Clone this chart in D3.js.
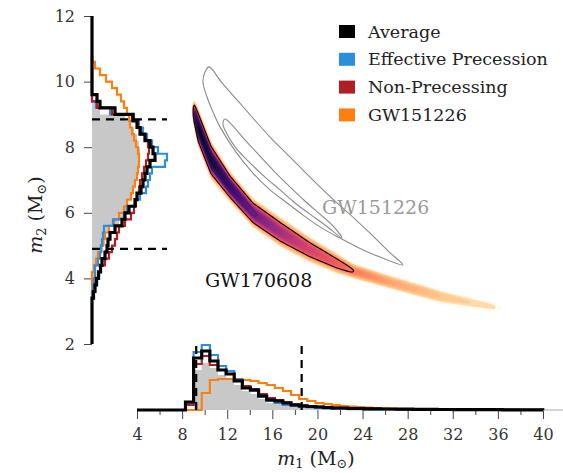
<!DOCTYPE html>
<html>
<head>
<meta charset="utf-8">
<script src="https://cdn.jsdelivr.net/npm/d3@7"></script>
<style>
  body { margin: 0; background: #fff; }
  text { font-family: "DejaVu Serif", serif; }
</style>
</head>
<body>
<svg id="chart" width="563" height="473"></svg>
<script>
// ---- marginal histogram of m2 (bins of 0.2 from 3.4) ----
const m2Edges = d3.range(38).map(i => 3.4 + 0.2 * i);
const m2Average = [1.5, 3, 4.5, 6.5, 8.5, 10, 13, 15, 16, 18, 23, 30, 33, 37, 43, 45, 49, 51, 53, 55, 58, 63, 61, 58, 53, 48, 45, 41, 23, 8, 5, 0, 0, 0, 0, 0, 0];
const m2Filled  = [0, 0, 1, 2, 3, 4, 8, 11, 13, 14, 17, 27, 31, 34, 36, 38, 41, 43, 45, 46, 47, 48, 48, 47, 45, 42, 38, 33, 8, 4, 0, 0, 0, 0, 0, 0, 0];
const m2EffPrec = [0, 1, 2, 3, 3, 6, 8, 9, 10, 11, 12, 21, 32, 35, 43, 48, 54, 56, 58, 60, 73, 75, 66, 60, 55, 51, 47, 42, 18, 4, 0, 0, 0, 0, 0, 0, 0];
const m2NonPrec = [1, 3, 5, 7, 9, 13, 17, 20, 23, 25, 27, 33, 39, 42, 44, 45, 47, 48, 50, 52, 54, 56, 57, 56, 53, 49, 46, 40, 20, 5, 0, 0, 0, 0, 0, 0, 0];
const m2GW151226 = [0, 0, 0, 0, 2, 4, 6, 9, 11, 13, 17, 22, 27, 32, 35, 39, 41, 43, 45, 46, 47, 47, 46, 44, 42, 40, 38, 37, 35, 32, 29, 25, 20, 14, 8, 3, 0];
const m2Interval = [4.9, 8.85];

// ---- marginal histogram of m1 (bins of 0.72 from 8.3) ----
const m1Edges = d3.range(45).map(i => 8.3 + 0.72 * i);
const m1Average = [8, 52, 59, 49, 40, 36, 29, 22, 20, 14, 10, 9, 7, 5, 4, 3.5, 3, 2.5, 2, 2, 1.5, 1.5, 1.2, 1.2, 1, 1, 0.8, 0.8, 0.7, 0.6, 0.6, 0.5, 0.5, 0.4, 0.4, 0.4, 0.3, 0.3, 0.3, 0.2, 0.2, 0.2, 0.2, 0.1];
const m1Filled  = [0, 40, 47, 42, 35, 31, 25, 19, 16, 11, 7, 6, 4, 3, 2, 1.5, 1, 1, 0.5, 0.5, 0.3, 0.3, 0.2, 0.2, 0.1, 0.1, 0, 0, 0, 0, 0, 0, 0, 0, 0, 0, 0, 0, 0, 0, 0, 0, 0, 0];
const m1EffPrec = [6, 58, 65, 55, 44, 39, 31, 23, 19, 13, 9, 7, 5, 4, 3, 2.5, 2, 1.5, 1.2, 1, 0.8, 0.8, 0.6, 0.6, 0.5, 0.5, 0.4, 0.4, 0.3, 0.3, 0.3, 0.2, 0.2, 0.2, 0.2, 0.1, 0.1, 0.1, 0.1, 0.1, 0.1, 0, 0, 0];
const m1NonPrec = [5, 46, 54, 45, 40, 36, 30, 24, 21, 16, 12, 10, 8, 6, 5, 4, 3.5, 3, 2.5, 2, 1.8, 1.5, 1.3, 1.2, 1, 0.9, 0.8, 0.7, 0.6, 0.6, 0.5, 0.5, 0.4, 0.4, 0.3, 0.3, 0.3, 0.2, 0.2, 0.2, 0.2, 0.1, 0.1, 0.1];
const m1GW151226 = [0, 0, 17, 30, 31, 31, 31, 30, 29, 27, 25, 22, 19, 15, 11, 9, 7, 6, 5, 4, 3.5, 3, 2.5, 2, 1.6, 1.3, 1, 0.8, 0.6, 0.5, 0.4, 0.3, 0.3, 0.2, 0.2, 0.2, 0.1, 0.1, 0.1, 0.1, 0, 0, 0, 0];
const m1Interval = [9.25, 18.6];

// ---- GW170608 2D posterior ridge (centre line, peak density, spread in m2) ----
const ridgeM1 = [8.92, 9.12, 9.41, 10.56, 12.24, 14.28, 16.7, 19.3, 21.7, 23.2, 26.7, 31.1, 35.6, 36.5];
const ridgeM2 = [9.15, 8.98, 8.62, 7.61, 6.8, 6.0, 5.42, 4.88, 4.46, 4.22, 3.86, 3.43, 3.13, 3.08];
const ridgePeak = [0, 0.85, 1.0, 0.97, 0.88, 0.72, 0.56, 0.42, 0.33, 0.25, 0.15, 0.06, 0.03, 0];
const ridgeSpread = [0.15, 0.22, 0.3, 0.3, 0.24, 0.23, 0.24, 0.21, 0.17, 0.13, 0.12, 0.13, 0.09, 0.05];

// ---- GW151226 credible contours (outer and inner), upper then lower edge ----
const outerUpperM1 = [10.38, 11.54, 12.87, 14.28, 15.79, 17.30, 18.72, 20.22, 21.73, 23.33, 24.66, 26.25, 27.58];
const outerUpperM2 = [10.45, 9.96, 9.44, 8.89, 8.31, 7.79, 7.30, 6.79, 6.30, 5.81, 5.38, 4.84, 4.41];
const outerLowerM1 = [10.03, 9.85, 10.21, 10.74, 11.36, 12.78, 14.28, 15.79, 17.30, 18.72, 20.22, 21.99, 23.50, 25.54];
const outerLowerM2 = [10.29, 9.99, 9.53, 9.07, 8.62, 7.85, 7.21, 6.70, 6.30, 5.93, 5.57, 5.23, 4.96, 4.65];
const innerUpperM1 = [11.80, 12.42, 13.57, 14.90, 16.23, 17.56, 18.89, 20.22, 21.38, 22.17];
const innerUpperM2 = [8.86, 8.68, 8.22, 7.73, 7.24, 6.79, 6.36, 5.96, 5.60, 5.23];
const innerLowerM1 = [11.62, 11.89, 12.69, 14.02, 15.35, 16.68, 18.01, 19.34, 20.67];
const innerLowerM2 = [8.71, 8.46, 8.01, 7.52, 7.09, 6.70, 6.30, 5.96, 5.63];

const legendLabels = ["Average", "Effective Precession", "Non-Precessing", "GW151226"];
const legendColors = ["#000000", "#2e8ede", "#b01f24", "#ff7f0e"];
const xTicks = [4, 8, 12, 16, 20, 24, 28, 32, 36, 40];
const xMinorTicks = [6, 10, 14, 18, 22, 26, 30, 34, 38];
const yTicks = [2, 4, 6, 8, 10, 12];

const svg = d3.select("#chart");

const x = d3.scaleLinear().domain([4, 40]).range([137, 543]);
const y = d3.scaleLinear().domain([2, 12]).range([344, 16]);
const hx = d3.scaleLinear().domain([0, 100]).range([92, 192]);
const hy = d3.scaleLinear().domain([0, 100]).range([410, 310]);

// ---------- 2D density of GW170608 ----------
const gx0 = 180, gy0 = 85, W = 330, H = 240;
const ridgeC = d3.scaleLinear().domain(ridgeM1).range(ridgeM2).clamp(true);
const ridgeP = d3.scaleLinear().domain(ridgeM1).range(ridgePeak).clamp(true);
const ridgeS = d3.scaleLinear().domain(ridgeM1).range(ridgeSpread).clamp(true);
const grid = new Float64Array(W * H);
for (let j = 0; j < H; j++) {
  const m2 = y.invert(gy0 + j + 0.5);
  for (let i = 0; i < W; i++) {
    const m1 = x.invert(gx0 + i + 0.5);
    let v = 0;
    if (m1 > ridgeM1[0] && m1 < ridgeM1[ridgeM1.length - 1]) {
      const d = Math.abs(m2 - ridgeC(m1)) / ridgeS(m1);
      v = ridgeP(m1) * Math.exp(-0.5 * d * d * d);
    }
    grid[j * W + i] = v;
  }
}
const levels = d3.range(0.004, 1.0, 0.02);
const densColor = v => d3.interpolateMagma(Math.min(0.95, 0.06 + 0.87 * (1 - v)));
const dens = svg.append("g").attr("transform", `translate(${gx0},${gy0})`);
dens.selectAll("path.fill")
  .data(d3.contours().size([W, H]).thresholds(levels)(grid))
  .join("path")
  .attr("class", "fill")
  .attr("d", d3.geoPath())
  .attr("fill", d => densColor(d.value))
  .attr("fill-opacity", d => Math.min(1, d.value / 0.03));
dens.selectAll("path.line")
  .data(d3.contours().size([W, H]).thresholds([0.25, 0.7])(grid))
  .join("path")
  .attr("class", "line")
  .attr("d", d3.geoPath())
  .attr("fill", "none")
  .attr("stroke", "#000")
  .attr("stroke-opacity", (d, i) => i == 0 ? 1 : 0.35)
  .attr("stroke-width", (d, i) => i == 0 ? 1.1 : 0.8);

// ---------- GW151226 contours ----------
const closedLine = d3.line().x(d => x(d[0])).y(d => y(d[1])).curve(d3.curveCatmullRomClosed);
function contourPts(um1, um2, lm1, lm2) {
  const up = um1.map((m, i) => [m, um2[i]]);
  const low = lm1.map((m, i) => [m, lm2[i]]).reverse();
  return up.concat(low);
}
svg.append("path")
  .attr("d", closedLine(contourPts(outerUpperM1, outerUpperM2, outerLowerM1, outerLowerM2)))
  .attr("fill", "none").attr("stroke", "#8a8a8a").attr("stroke-width", 1.1);
svg.append("path")
  .attr("d", closedLine(contourPts(innerUpperM1, innerUpperM2, innerLowerM1, innerLowerM2)))
  .attr("fill", "none").attr("stroke", "#8a8a8a").attr("stroke-width", 1.1);

svg.append("text").attr("x", 322).attr("y", 214).attr("font-size", 19).attr("fill", "#9a9a9a").text("GW151226");
svg.append("text").attr("x", 205).attr("y", 287).attr("font-size", 19).attr("fill", "#111").text("GW170608");

// ---------- axes ----------
const axB = svg.append("g").attr("transform", "translate(0,410)")
  .call(d3.axisBottom(x).tickValues(xTicks).tickSize(9).tickPadding(10));
const axBm = svg.append("g").attr("transform", "translate(0,410)")
  .call(d3.axisBottom(x).tickValues(xMinorTicks).tickSize(5).tickFormat(""));
const axL = svg.append("g").attr("transform", "translate(92,0)")
  .call(d3.axisLeft(y).tickValues(yTicks).tickSize(8).tickPadding(9));
[axB, axBm, axL].forEach(a => {
  a.select(".domain").remove();
  a.selectAll(".tick line").attr("stroke", "#444");
  a.selectAll("text").attr("font-size", 16).attr("fill", "#333").attr("font-family", "DejaVu Serif");
});
svg.append("line").attr("x1", x(40)).attr("x2", 563).attr("y1", 410).attr("y2", 410)
  .attr("stroke", "#aaa").attr("stroke-width", 1);

// ---------- marginal histograms ----------
function vertSteps(vals, full) {
  const pts = [];
  if (full) pts.push([0, 2]);
  pts.push([0, m2Edges[0]]);
  vals.forEach((v, i) => { pts.push([v, m2Edges[i]]); pts.push([v, m2Edges[i + 1]]); });
  pts.push([0, m2Edges[m2Edges.length - 1]]);
  if (full) pts.push([0, 12]);
  return pts;
}
function horizSteps(vals, full) {
  const pts = [];
  if (full) pts.push([4, 0]);
  pts.push([m1Edges[0], 0]);
  vals.forEach((v, i) => { pts.push([m1Edges[i], v]); pts.push([m1Edges[i + 1], v]); });
  pts.push([m1Edges[m1Edges.length - 1], 0]);
  if (full) pts.push([40, 0]);
  return pts;
}
const leftLine = d3.line().x(d => hx(d[0])).y(d => y(d[1]));
const bottomLine = d3.line().x(d => x(d[0])).y(d => hy(d[1]));

svg.append("path").attr("d", leftLine(vertSteps(m2Filled, false)) + "Z").attr("fill", "#c8c8c8");
svg.append("path").attr("d", bottomLine(horizSteps(m1Filled, false)) + "Z").attr("fill", "#c8c8c8");

const series = [
  [m2GW151226, m1GW151226, legendColors[3], 2.2],
  [m2EffPrec, m1EffPrec, legendColors[1], 2.2],
  [m2NonPrec, m1NonPrec, legendColors[2], 2.2],
  [m2Average, m1Average, legendColors[0], 3.2]
];
series.forEach(([vl, vb, col, w]) => {
  const full = col === "#000000";
  svg.append("path").attr("d", leftLine(vertSteps(vl, full)))
    .attr("fill", "none").attr("stroke", col).attr("stroke-width", w).attr("stroke-linejoin", "miter");
  svg.append("path").attr("d", bottomLine(horizSteps(vb, full)))
    .attr("fill", "none").attr("stroke", col).attr("stroke-width", w).attr("stroke-linejoin", "miter");
});

// credible interval markers
m2Interval.forEach(v => {
  svg.append("line").attr("x1", hx(0)).attr("x2", hx(75)).attr("y1", y(v)).attr("y2", y(v))
    .attr("stroke", "#000").attr("stroke-width", 2.2).attr("stroke-dasharray", "8,6");
});
m1Interval.forEach(v => {
  svg.append("line").attr("x1", x(v)).attr("x2", x(v)).attr("y1", hy(0)).attr("y2", hy(65))
    .attr("stroke", "#000").attr("stroke-width", 2.2).attr("stroke-dasharray", "8,6");
});

// ---------- axis labels ----------
const xl = svg.append("text").attr("x", 316).attr("y", 465).attr("text-anchor", "middle").attr("font-size", 19).attr("fill", "#222");
xl.append("tspan").attr("font-style", "italic").text("m");
xl.append("tspan").attr("font-size", 13).attr("dy", 3).text("1");
xl.append("tspan").attr("dy", -3).text(" (M");
xl.append("tspan").attr("font-size", 13).attr("dy", 3).text("\u2299");
xl.append("tspan").attr("dy", -3).text(")");

const yl = svg.append("text").attr("transform", "translate(42,215) rotate(-90)").attr("text-anchor", "middle").attr("font-size", 19).attr("fill", "#222");
yl.append("tspan").attr("font-style", "italic").text("m");
yl.append("tspan").attr("font-size", 13).attr("dy", 4).text("2");
yl.append("tspan").attr("dy", -4).text(" (M");
yl.append("tspan").attr("font-size", 13).attr("dy", 4).text("\u2299");
yl.append("tspan").attr("dy", -4).text(")");

// ---------- legend ----------
const leg = svg.append("g");
leg.selectAll("rect").data(legendLabels).join("rect")
  .attr("x", 339).attr("y", (d, i) => 25 + i * 27.8).attr("width", 16).attr("height", 13)
  .attr("fill", (d, i) => legendColors[i]);
leg.selectAll("text").data(legendLabels).join("text")
  .attr("x", 368).attr("y", (d, i) => 37.5 + i * 27.8)
  .attr("font-size", 17.5).attr("fill", "#222")
  .text(d => d);
</script>
</body>
</html>
